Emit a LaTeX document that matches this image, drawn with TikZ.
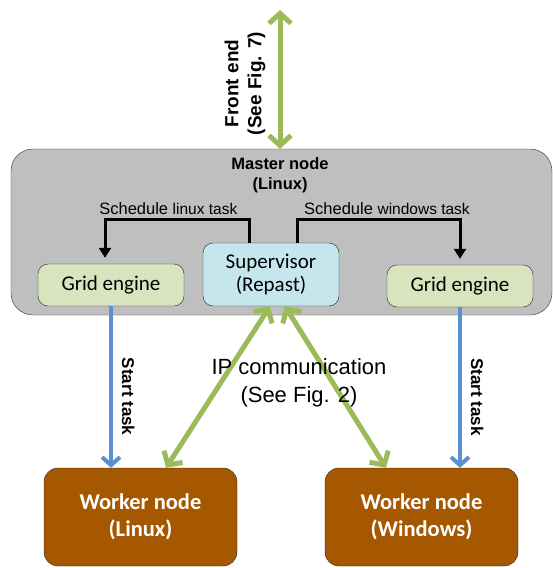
\documentclass[tikz,border=0pt]{standalone}
\usepackage{fontspec}
\setmainfont{Liberation Sans}
\newfontfamily\boxfont{Carlito}
\usetikzlibrary{arrows.meta}
\definecolor{mastergray}{RGB}{191,191,191}
\definecolor{gridgreen}{RGB}{215,228,189}
\definecolor{supblue}{RGB}{198,230,238}
\definecolor{workerbrown}{RGB}{166,88,0}
\definecolor{linkgreen}{RGB}{155,187,89}
\definecolor{taskblue}{RGB}{91,143,205}
\begin{document}
\begin{tikzpicture}[x=1pt,y=-1pt,
   master/.style={draw=black!80,fill=mastergray,rounded corners=22pt,minimum width=541pt,minimum height=166pt,inner sep=0pt},
   engine/.style={draw=black!85,fill=gridgreen,rounded corners=10pt,minimum width=146pt,minimum height=42pt,inner sep=0pt,font={\boxfont\fontsize{21}{24}\selectfont}},
   super/.style={draw=black!85,fill=supblue,rounded corners=10pt,minimum width=136pt,minimum height=63pt,inner sep=0pt,align=center,font={\boxfont\fontsize{21}{23.5}\selectfont}},
   worker/.style={draw=black!85,fill=workerbrown,text=white,rounded corners=14pt,minimum width=193pt,minimum height=98pt,inner sep=0pt,align=center,font={\boxfont\bfseries\fontsize{22.5}{27}\selectfont}},
   sched/.style={-{Triangle[length=10pt,width=12pt]},line width=3pt,shorten >=6pt},
   start/.style={-{Straight Barb[length=8pt,width=18pt]},line width=4pt,draw=taskblue},
   link/.style={{Straight Barb[length=10pt,width=22pt]}-{Straight Barb[length=10pt,width=22pt]},line width=5pt,draw=linkgreen},
   tag/.style={inner ysep=9pt,font={\bfseries\fontsize{17}{20}\selectfont}}]
\useasboundingbox (0,0) rectangle (553,568);
\node[master] (Master) at (281.5,232) {};
\node[align=center,font={\bfseries\fontsize{16.5}{20}\selectfont}] (MasterTitle) at (280,175) {Master node\\(Linux)};
\node[engine] (GridL) at (111,285) {Grid engine};
\node[super] (Supervisor) at (271,274.5) {Supervisor\\(Repast)};
\node[engine] (GridW) at (460,286) {Grid engine};
\node[worker] (WorkerL) at (140.5,517) {Worker node\\(Linux)};
\node[worker] (WorkerW) at (421.5,517) {Worker node\\(Windows)};
\coordinate (FrontEnd) at (280,10);
\draw[sched] ([xshift=-22pt]Supervisor.north) -- ++(0,-23) -| node[above,pos=0.28,font={\fontsize{16.5}{20}\selectfont}] {Schedule {\fontsize{15.5}{18}\selectfont linux task}} ([xshift=-6pt]GridL.north);
\draw[sched] ([xshift=26pt]Supervisor.north) -- ++(0,-23) -| node[above,pos=0.276,font={\fontsize{16.5}{20}\selectfont}] {Schedule {\fontsize{15.5}{18}\selectfont windows task}} (GridW.north);
\draw[start] (GridL.south) -- (GridL.south |- WorkerL.north) node[tag,pos=0.56,rotate=-90,anchor=south] {Start task};
\draw[start] (GridW.south) -- (GridW.south |- WorkerW.north) node[tag,pos=0.56,rotate=-90,anchor=south] {Start task};
\draw[link] ([xshift=-1pt]Supervisor.south) -- ([xshift=25.5pt]WorkerL.north);
\draw[link] ([xshift=14pt]Supervisor.south) -- ([xshift=-35.5pt]WorkerW.north);
\node[align=center,font={\fontsize{22}{28}\selectfont}] (IPComm) at (299,383) {IP communication\\(See Fig. 2)};
\draw[link] ([xshift=-1.5pt]Master.north) -- (FrontEnd) node[pos=0.47,rotate=90,anchor=south,inner ysep=12pt,align=center,font={\bfseries\fontsize{19}{23}\selectfont}] {Front end\\(See Fig. 7)};
\end{tikzpicture}
\end{document}
